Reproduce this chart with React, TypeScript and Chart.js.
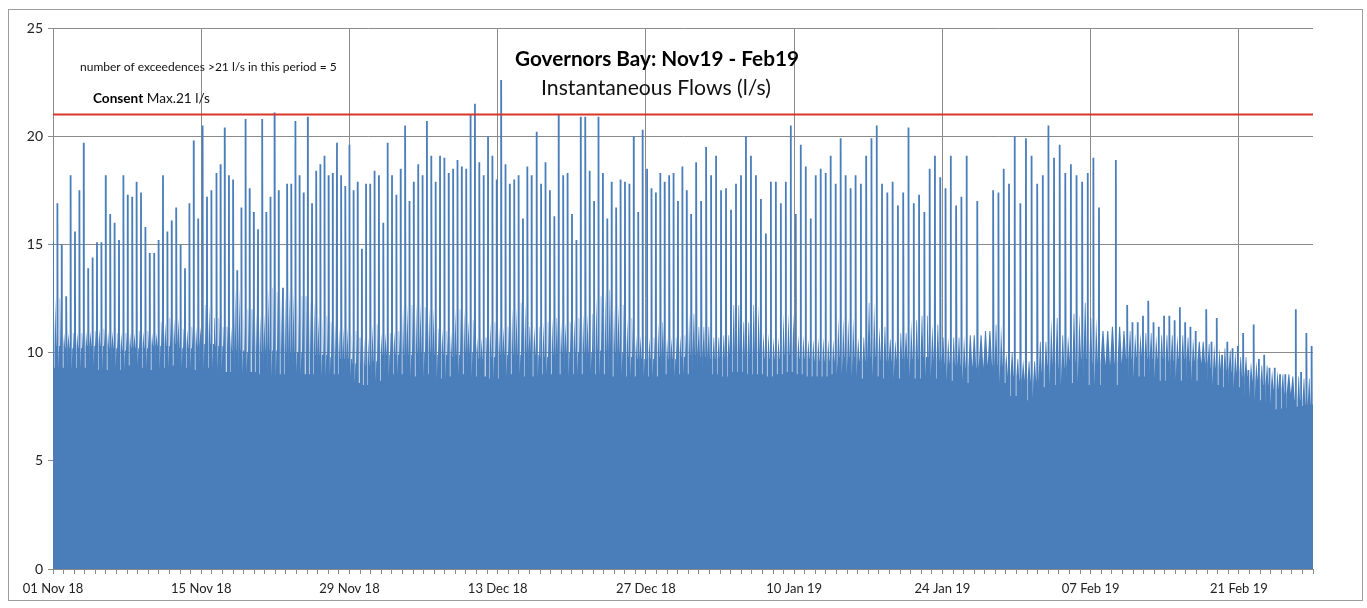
import React, { useEffect, useRef } from 'react';
import { Chart, registerables } from 'chart.js';

Chart.register(...registerables);

// ---- tick labels & constants ----
const xTickLabels = ['01 Nov 18', '15 Nov 18', '29 Nov 18', '13 Dec 18', '27 Dec 18', '10 Jan 19', '24 Jan 19', '07 Feb 19', '21 Feb 19'];
const periodDays = 119;
const consentMax = 21;
const titleText = 'Governors Bay: Nov19 - Feb19';
const subtitleText = 'Instantaneous Flows (l/s)';
const exceedText = 'number of exceedences >21 l/s in this period = 5';

// ---- spike peaks (l/s), in groups spanning [start, end] days since 01 Nov 18 ----
const segStartDay = [0.0, 15.44, 30.37, 45.68, 60.27, 75.8, 90.83, 101.45];
const segEndDay = [14.96, 29.96, 45.21, 59.86, 75.33, 90.29, 100.38, 118.87];

const peaksEarlyNov = [15.1, 16.9, 15.0, 12.6, 18.2, 15.6, 17.5, 19.7, 13.9, 14.4, 15.1, 15.1, 18.2, 16.4, 16.0, 15.2, 18.2, 17.3, 17.2, 17.9, 17.4, 15.8, 14.6, 14.6, 15.2, 18.2, 15.6, 16.1, 16.7, 15.0, 13.9, 16.9, 19.8, 16.2, 20.5, 17.2, 17.5];
const peaksLateNov = [18.3, 18.7, 20.4, 18.2, 18.0, 13.8, 16.7, 20.8, 17.6, 16.5, 15.7, 20.8, 16.5, 17.2, 21.1, 17.5, 13.0, 17.8, 17.8, 20.7, 18.2, 17.4, 20.9, 16.9, 18.4, 18.7, 19.1, 18.2, 18.3, 19.7, 18.2, 17.7, 19.6, 17.5, 17.9, 14.8, 17.8, 17.8];
const peaksEarlyDec = [18.4, 18.2, 16.0, 19.7, 18.2, 17.3, 18.5, 20.5, 17.0, 17.9, 18.7, 18.2, 20.7, 19.1, 17.9, 19.1, 19.0, 18.3, 18.5, 18.9, 18.6, 18.5, 21.0, 21.5, 18.8, 18.2, 20.0, 19.1, 18.0, 22.6, 18.7, 17.8, 18.0, 18.2, 16.2, 18.6, 18.2];
const peaksLateDec = [20.2, 17.8, 18.8, 17.5, 16.3, 21.0, 18.2, 18.3, 16.4, 15.2, 20.9, 20.9, 18.4, 17.0, 20.9, 18.3, 16.2, 17.9, 16.7, 18.0, 17.9, 17.8, 20.0, 16.5, 20.3, 18.5, 17.6, 17.4, 18.3, 17.9, 18.2, 18.3, 17.0, 18.6, 17.5];
const peaksEarlyJan = [16.4, 18.8, 17.0, 19.5, 18.2, 19.1, 17.5, 17.6, 16.6, 17.8, 18.2, 20.0, 19.1, 18.2, 17.1, 15.5, 17.9, 17.9, 16.9, 17.9, 20.5, 16.4, 19.6, 18.6, 16.2, 18.2, 18.5, 18.3, 19.1, 17.8, 19.9, 18.2, 17.6];
const peaksLateJan = [18.2, 17.8, 19.1, 19.9, 20.5, 17.8, 17.4, 17.9, 16.8, 17.4, 20.4, 16.9, 17.3, 16.5, 18.5, 19.1, 18.1, 17.6, 19.1, 16.8, 17.2, 19.1, null, 17.0, null, null, 17.5, 17.4, 18.5, 17.8];
const peaksEarlyFeb = [20.0, 16.9, 19.9, 19.1, 17.8, 18.2, 20.5, 19.0, 19.6, 18.3, 18.7, 18.2, 17.9, 18.3, 19.0, 16.7, null, null, 18.9];
const peaksLateFeb = [12.2, 11.4, 11.4, 11.7, 12.4, 11.4, 11.2, 11.7, 11.7, 11.5, 12.1, 11.4, 11.2, 11.0, null, 12.0, 10.5, 11.6, 9.9, 10.5, 10.2, 10.3, 10.9, 9.2, 11.3, 9.7, 9.9, 9.3, 9.3, 9.0, 9.0, null, 12.0, 9.1, 10.9, 10.3];

// ---- daily levels (l/s), one value per day from 01 Nov 18 ----
// level reached by the dense flow between the peaks
const fuzzLevel = [
  12.5, 10.9, 10.9, 11.0, 11.1, 11.0, 10.9, 10.9, 11.0, 10.9,
  11.4, 11.6, 11.1, 11.2, 12.2, 11.6, 11.2, 13.0, 12.0, 11.8,
  13.0, 12.8, 12.9, 12.6, 12.4, 11.7, 11.4, 11.2, 11.0, 10.7,
  11.3, 10.9, 11.0, 12.2, 12.3, 12.1, 11.1, 11.0, 12.0, 11.5,
  10.7, 11.4, 11.2, 12.1, 12.3, 11.2, 11.4, 11.6, 11.4, 11.6,
  11.8, 12.6, 12.9, 12.2, 11.6, 10.8, 10.7, 11.4, 10.7, 10.8,
  11.8, 11.2, 10.7, 10.8, 12.2, 11.4, 12.2, 10.9, 10.7, 11.8,
  10.8, 10.6, 10.7, 10.6, 11.6, 11.6, 10.7, 12.3, 11.2, 10.6,
  10.9, 11.5, 11.7, 11.3, 10.7, 10.7, 10.8, 10.8, 11.0, 11.3,
  10.0, 9.7, 9.6, 10.5, 11.6, 10.8, 11.8, 12.3, 11.6, 11.0,
  11.2, 11.0, 10.9, 10.9, 10.8, 10.8, 10.8, 10.7, 10.5, 10.4,
  10.2, 10.1, 9.8, 9.6, 9.4, 9.2, 9.0, 8.9, 8.8, 8.7,
];
// solid base flow
const baseLevel = [
  10.3, 10.2, 10.2, 10.3, 10.3, 10.2, 10.1, 10.2, 10.2, 10.3,
  10.3, 10.4, 10.2, 10.3, 10.4, 10.3, 10.2, 10.1, 10.0, 10.0,
  10.1, 10.1, 10.0, 10.0, 9.9, 9.9, 9.8, 9.7, 9.5, 9.4,
  9.6, 9.9, 9.9, 9.9, 10.0, 10.0, 9.9, 9.8, 9.9, 10.0,
  9.7, 9.8, 9.9, 9.9, 10.0, 9.9, 9.8, 9.9, 10.0, 10.0,
  10.0, 10.1, 10.1, 10.0, 9.8, 9.7, 9.7, 9.8, 9.7, 9.8,
  9.9, 9.8, 9.7, 9.7, 9.9, 9.8, 9.9, 9.7, 9.7, 9.9,
  9.7, 9.7, 9.6, 9.6, 9.8, 9.8, 9.6, 9.8, 9.6, 9.6,
  9.7, 9.7, 9.8, 9.6, 9.5, 9.4, 9.3, 9.3, 9.4, 9.4,
  8.9, 8.7, 8.7, 9.1, 9.4, 9.3, 9.6, 9.7, 9.5, 9.4,
  9.5, 9.7, 9.8, 9.7, 9.7, 9.6, 9.7, 9.6, 9.5, 9.3,
  9.2, 9.1, 8.9, 8.7, 8.5, 8.3, 8.1, 7.8, 7.6, 7.6,
];
// short drop right after each peak
const dipLevel = [
  9.3, 9.2, 9.3, 9.4, 9.2, 9.3, 9.2, 9.4, 9.3, 9.2,
  9.3, 9.4, 9.3, 9.2, 9.3, 9.2, 9.1, 9.0, 9.1, 9.0,
  8.9, 9.0, 9.1, 9.0, 9.0, 8.9, 9.0, 8.9, 8.6, 8.5,
  8.7, 8.9, 9.0, 8.9, 8.9, 9.0, 8.8, 8.9, 9.0, 8.9,
  8.9, 8.8, 8.9, 9.0, 8.9, 8.9, 9.0, 9.0, 8.9, 9.0,
  9.1, 9.0, 8.9, 9.0, 8.9, 8.9, 8.9, 9.0, 8.9, 9.0,
  9.0, 9.0, 9.0, 8.9, 9.1, 9.0, 9.0, 8.9, 9.0, 9.1,
  9.0, 8.9, 8.9, 9.0, 9.0, 8.9, 8.8, 8.9, 8.8, 8.8,
  8.9, 8.8, 8.9, 8.8, 8.7, 8.7, 8.6, 8.7, 8.7, 8.6,
  8.0, 7.8, 7.9, 8.4, 8.5, 8.5, 8.6, 8.5, 8.5, 8.4,
  8.5, 8.8, 8.9, 8.8, 8.7, 8.8, 8.7, 8.7, 8.6, 8.5,
  8.4, 8.4, 7.9, 7.8, 7.6, 7.2, 7.0, 6.7, 6.6, 6.6,
];

const segPeaks = [peaksEarlyNov, peaksLateNov, peaksEarlyDec, peaksLateDec, peaksEarlyJan, peaksLateJan, peaksEarlyFeb, peaksLateFeb];

type Pt = { x: number; y: number };

function levelAt(arr: number[], t: number): number {
  const i = Math.min(arr.length - 1, Math.max(0, Math.floor(t)));
  return arr[i];
}

function buildFlow(): Pt[] {
  const spikes: { t: number; p: number }[] = [];
  segPeaks.forEach((arr, s) => {
    const a = segStartDay[s];
    const b = segEndDay[s];
    const n = arr.length;
    arr.forEach((p, i) => {
      if (p === null || p === undefined) return;
      spikes.push({ t: a + ((b - a) * i) / (n - 1), p: p as number });
    });
  });
  const pts: Pt[] = [];
  spikes.forEach((s, i) => {
    const t = s.t;
    pts.push({ x: t - 0.1, y: levelAt(baseLevel, t) });
    pts.push({ x: t - 0.085, y: s.p });
    pts.push({ x: t + 0.085, y: s.p });
    pts.push({ x: t + 0.1, y: levelAt(dipLevel, t) });
    pts.push({ x: t + 0.125, y: levelAt(dipLevel, t) });
    pts.push({ x: t + 0.155, y: levelAt(baseLevel, t) });
    const next = spikes[i + 1];
    if (next) {
      const a = t + 0.155;
      const b = next.t - 0.1;
      // one burst per ~0.42 day of quiet flow between two peaks
      const k = Math.max(1, Math.round((b - a) / 0.42));
      for (let j = 0; j < k; j++) {
        const a0 = a + (j * (b - a)) / k;
        const w = (b - a) / k;
        const f = levelAt(fuzzLevel, a0 + w / 2);
        pts.push({ x: a0 + w * 0.38, y: f });
        pts.push({ x: a0 + w * 0.62, y: f });
        if (j < k - 1) pts.push({ x: a0 + w, y: levelAt(baseLevel, a0 + w) });
      }
    }
  });
  pts.push({ x: periodDays, y: levelAt(baseLevel, periodDays) });
  return pts;
}

const FONT = 'Lato, "Open Sans", sans-serif';
const gridColor = '#8a8a8a';

function fitSize(ctx: CanvasRenderingContext2D, parts: [string, string][], target: number): number {
  let w = 0;
  for (const [txt, weight] of parts) {
    ctx.font = `${weight} 20px ${FONT}`;
    w += ctx.measureText(txt).width;
  }
  return (20 * target) / w;
}

const annotationPlugin = {
  id: 'gbAnnotations',
  afterDraw(chart: any) {
    const ctx: CanvasRenderingContext2D = chart.ctx;
    ctx.save();
    ctx.textBaseline = 'middle';
    ctx.fillStyle = '#000';
    // title
    let s = fitSize(ctx, [[titleText, 'bold']], 284);
    ctx.font = `bold ${s}px ${FONT}`;
    ctx.textAlign = 'center';
    ctx.fillText(titleText, 649, 50);
    // subtitle
    s = fitSize(ctx, [[subtitleText, 'normal']], 230);
    ctx.font = `normal ${s}px ${FONT}`;
    ctx.fillStyle = '#111';
    ctx.fillText(subtitleText, 648, 79);
    // exceedences note
    ctx.textAlign = 'left';
    s = fitSize(ctx, [[exceedText, 'normal']], 257);
    ctx.font = `normal ${s}px ${FONT}`;
    ctx.fillText(exceedText, 72, 58);
    // consent label
    const p1 = 'Consent';
    const p2 = ` Max.${consentMax} l/s`;
    s = fitSize(ctx, [[p1, 'bold'], [p2, 'normal']], 117);
    ctx.font = `bold ${s}px ${FONT}`;
    ctx.fillStyle = '#000';
    ctx.fillText(p1, 85, 90);
    const w1 = ctx.measureText(p1).width;
    ctx.font = `normal ${s}px ${FONT}`;
    ctx.fillStyle = '#111';
    ctx.fillText(p2, 85 + w1, 90);
    // outer frame
    ctx.strokeStyle = '#9c9c9c';
    ctx.lineWidth = 1;
    ctx.strokeRect(0.5, 0.5, chart.width - 1, chart.height - 1);
    ctx.restore();
  },
};

export default function App() {
  const ref = useRef<HTMLCanvasElement | null>(null);
  useEffect(() => {
    if (!ref.current) return;
    const flow = buildFlow();
    const chart = new Chart(ref.current, {
      type: 'line',
      data: {
        datasets: [
          {
            label: 'Consent Max',
            data: [
              { x: 0, y: consentMax },
              { x: periodDays, y: consentMax },
            ],
            borderColor: '#D7372B',
            borderWidth: 2,
            pointRadius: 0,
            fill: false,
            order: 0,
          },
          {
            label: 'Instantaneous Flow',
            data: flow,
            backgroundColor: '#4A7EBB',
            borderColor: 'rgba(0,0,0,0)',
            borderWidth: 0,
            pointRadius: 0,
            tension: 0,
            fill: 'origin',
            order: 1,
          },
        ],
      },
      options: {
        responsive: false,
        animation: false,
        events: [],
        layout: { padding: { left: 0, top: 19, right: 50, bottom: 0 } },
        plugins: {
          legend: { display: false },
          tooltip: { enabled: false },
          title: { display: false },
        },
        scales: {
          x: {
            type: 'linear',
            min: 0,
            max: periodDays,
            afterFit: (sc: any) => {
              sc.height = 32;
            },
            border: { display: true, color: gridColor },
            grid: {
              color: (c: any) => (c.tick && c.tick.value % 14 === 0 ? gridColor : 'rgba(0,0,0,0)'),
              tickColor: gridColor,
              tickLength: 5,
              lineWidth: 1,
            },
            ticks: {
              stepSize: 1,
              maxTicksLimit: 500,
              autoSkip: false,
              maxRotation: 0,
              minRotation: 0,
              padding: 7,
              color: '#222',
              font: { family: FONT, size: 13 },
              callback: (v: any) => {
                const n = Number(v);
                return n % 14 === 0 ? xTickLabels[n / 14] ?? '' : '';
              },
            },
          },
          y: {
            min: 0,
            max: 25,
            afterFit: (sc: any) => {
              sc.width = 45;
            },
            border: { display: true, color: gridColor },
            grid: { color: gridColor, tickColor: gridColor, tickLength: 5, lineWidth: 1 },
            ticks: {
              stepSize: 5,
              padding: 5,
              color: '#222',
              font: { family: FONT, size: 14 },
            },
          },
        },
      },
      plugins: [annotationPlugin],
    } as any);
    return () => chart.destroy();
  }, []);

  return (
    <div style={{ position: 'absolute', left: 8, top: 9, width: 1355, height: 592 }}>
      <canvas ref={ref} width={1355} height={592} style={{ display: 'block' }} />
    </div>
  );
}
